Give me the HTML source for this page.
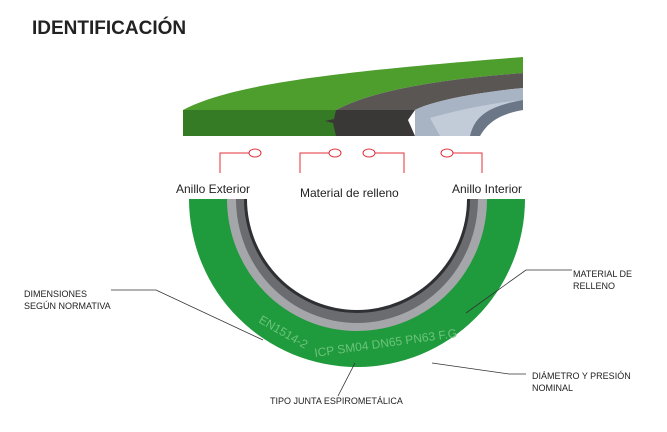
<!DOCTYPE html>
<html><head><meta charset="utf-8"><style>
body{margin:0;background:#fff;width:667px;height:427px;overflow:hidden;font-family:"Liberation Sans",sans-serif}
</style></head><body>
<svg width="667" height="427" viewBox="0 0 667 427" xmlns="http://www.w3.org/2000/svg" font-family="Liberation Sans, sans-serif">
<text x="32" y="34" font-size="19" font-weight="bold" fill="#222">IDENTIFICACIÓN</text>
<!-- cross section -->
<path d="M183,110 C230,85 330,72 523,57 L523,73 C430,80 370,92 336,110 Z" fill="#4e9e2e"/>
<path d="M336,110 C370,92 430,80 523,73 L523,88 C470,93 430,102 415,110 Z" fill="#5a5654"/>
<path d="M415,110 C430,102 470,93 523,88 L523,100 C490,106 475,115 470,136 L415,136 Z" fill="#a8b4c4"/>
<path d="M430,118 C450,112 490,103 523,100 L523,110 C495,114 480,122 470,136 L440,136 Z" fill="#c2cbd8"/>
<rect x="183" y="110" width="154" height="26" fill="#357a25"/>
<path d="M336,110 L415,110 L408,120 L415,136 L336,136 L333,123 L325,121 L334,119 Z" fill="#3a3837"/>
<path d="M470,136 C475,115 490,106 523,100 L523,110 C500,114 488,122 480,136 Z" fill="#6b7686"/>
<!-- red connectors -->
<g stroke="#e0303a" stroke-width="1" fill="#fff">
<polyline points="220,173 220,153 249,153" fill="none"/><ellipse cx="255" cy="153" rx="6" ry="4"/>
<polyline points="300,173 300,153 329,153" fill="none"/><ellipse cx="335" cy="153" rx="6" ry="4"/>
<polyline points="375,153 404,153 404,173" fill="none"/><ellipse cx="369" cy="153" rx="6" ry="4"/>
<polyline points="453,153 482,153 482,173" fill="none"/><ellipse cx="447" cy="153" rx="6" ry="4"/>
</g>
<g font-size="12" fill="#222">
<text x="176" y="193">Anillo Exterior</text>
<text x="300" y="197">Material de relleno</text>
<text x="452" y="193">Anillo Interior</text>
</g>
<!-- ring -->
<path d="M189,199 A168,168 0 0 0 525,199 Z" fill="#1f9a3c"/>
<path d="M227,199 A130,132 0 0 0 487,199 Z" fill="#a4a6aa"/>
<path d="M236,199 A121,124 0 0 0 478,199 Z" fill="#6a6c70"/>
<path d="M244,199 A113,114 0 0 0 470,199 Z" fill="#2e3034"/>
<path d="M247,199 A110,111 0 0 0 467,199 Z" fill="#fff"/>
<g fill="#6cc47c" font-size="12" font-family="Liberation Sans, sans-serif">
<text x="258" y="322" transform="rotate(30 258 322)">EN1514-2</text>
<text x="315" y="357" transform="rotate(-8 315 357)">ICP SM04 DN65 PN63 F.G</text>
</g>
<!-- annotations -->
<g stroke="#333" stroke-width="0.8" fill="none">
<polyline points="111,290 156,290 263,340"/>
<polyline points="572,270 526,270 466,313"/>
<polyline points="432,363 509,374 526,374"/>
<polyline points="355,363 338,396"/>
</g>
<g font-size="9" fill="#222">
<text x="24" y="297">DIMENSIONES</text>
<text x="24" y="309">SEGÚN NORMATIVA</text>
<text x="573" y="277">MATERIAL DE</text>
<text x="573" y="289">RELLENO</text>
<text x="532" y="379">DIÁMETRO Y PRESIÓN</text>
<text x="532" y="391">NOMINAL</text>
<text x="270" y="404">TIPO JUNTA ESPIROMETÁLICA</text>
</g>
</svg>
</body></html>
